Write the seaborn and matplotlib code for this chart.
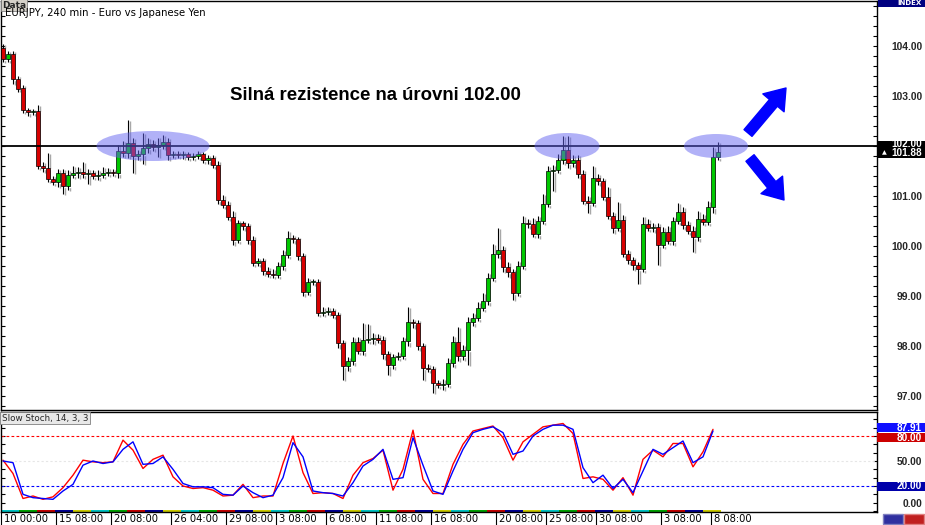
import numpy as np
import pandas as pd
import seaborn as sns
import matplotlib
matplotlib.use("Agg")
import matplotlib.pyplot as plt
import matplotlib.transforms as mtransforms
from matplotlib.patches import Ellipse, Rectangle
from matplotlib.ticker import MultipleLocator, FixedLocator

# EURJPY 4h candles (close, wick sizes)
first_open = 103.95
closes = [
    103.75, 103.85, 103.35, 103.15, 102.72, 102.68, 102.70, 101.60, 101.56, 101.35, 101.28, 101.46,
    101.20, 101.42, 101.46, 101.48, 101.44, 101.46, 101.40, 101.42, 101.46, 101.48, 101.47, 101.90,
    101.86, 102.06, 101.80, 101.84, 101.96, 102.04, 101.98, 102.02, 102.08, 101.82, 101.84, 101.82,
    101.84, 101.78, 101.80, 101.84, 101.72, 101.76, 101.62, 100.92, 100.82, 100.58, 100.12, 100.46,
    100.40, 100.12, 99.66, 99.70, 99.50, 99.44, 99.42, 99.60, 99.82, 100.16, 100.14, 99.80,
    99.08, 99.28, 99.28, 98.66, 98.68, 98.70, 98.62, 98.06, 97.60, 97.70, 98.08, 97.90,
    98.12, 98.14, 98.16, 98.12, 97.84, 97.62, 97.78, 97.80, 98.10, 98.48, 98.46, 98.00,
    97.56, 97.54, 97.26, 97.22, 97.24, 97.66, 98.08, 97.80, 97.92, 98.48, 98.56, 98.76,
    98.90, 99.36, 99.84, 99.92, 99.58, 99.48, 99.06, 99.60, 100.46, 100.44, 100.24, 100.50,
    100.84, 101.50, 101.52, 101.72, 101.92, 101.66, 101.72, 101.44, 100.90, 100.86, 101.36, 101.30,
    100.98, 100.60, 100.36, 100.52, 99.84, 99.72, 99.62, 99.55, 100.44, 100.36, 100.38, 100.02,
    100.28, 100.10, 100.50, 100.68, 100.42, 100.30, 100.18, 100.54, 100.48, 100.78, 101.78, 101.88,
]
up_wick = [
    0.10, 0.05, 0.06, 0.05, 0.06, 0.05, 0.05, 0.12, 0.08, 0.30, 0.06, 0.08,
    0.08, 0.10, 0.15, 0.10, 0.20, 0.08, 0.06, 0.10, 0.12, 0.08, 0.06, 0.12,
    0.20, 0.46, 0.10, 0.08, 0.30, 0.12, 0.08, 0.15, 0.14, 0.08, 0.06, 0.06,
    0.06, 0.05, 0.06, 0.06, 0.05, 0.06, 0.06, 0.08, 0.10, 0.08, 0.12, 0.06,
    0.05, 0.06, 0.08, 0.06, 0.06, 0.08, 0.10, 0.08, 0.10, 0.14, 0.06, 0.05,
    0.06, 0.08, 0.06, 0.06, 0.10, 0.08, 0.06, 0.06, 0.06, 0.08, 0.10, 0.10,
    0.34, 0.30, 0.10, 0.08, 0.08, 0.06, 0.06, 0.08, 0.08, 0.30, 0.06, 0.06,
    0.06, 0.08, 0.06, 0.06, 0.10, 0.10, 0.12, 0.30, 0.10, 0.10, 0.10, 0.12,
    0.15, 0.10, 0.20, 0.44, 0.08, 0.10, 0.06, 0.10, 0.15, 0.08, 0.12, 0.10,
    0.20, 0.10, 0.10, 0.12, 0.28, 0.28, 0.10, 0.10, 0.08, 0.10, 0.25, 0.08,
    0.06, 0.20, 0.08, 0.36, 0.10, 0.08, 0.06, 0.06, 0.15, 0.10, 0.08, 0.08,
    0.10, 0.12, 0.08, 0.18, 0.10, 0.08, 0.10, 0.15, 0.10, 0.12, 0.20, 0.20,
]
dn_wick = [
    0.06, 0.06, 0.10, 0.06, 0.06, 0.08, 0.06, 0.06, 0.08, 0.06, 0.06, 0.10,
    0.15, 0.08, 0.06, 0.10, 0.08, 0.20, 0.06, 0.08, 0.06, 0.06, 0.06, 0.10,
    0.08, 0.10, 0.34, 0.08, 0.20, 0.10, 0.08, 0.20, 0.08, 0.10, 0.06, 0.06,
    0.08, 0.06, 0.06, 0.06, 0.06, 0.08, 0.06, 0.08, 0.06, 0.06, 0.10, 0.06,
    0.08, 0.08, 0.06, 0.06, 0.08, 0.06, 0.06, 0.06, 0.08, 0.06, 0.08, 0.08,
    0.08, 0.06, 0.06, 0.06, 0.06, 0.06, 0.06, 0.10, 0.28, 0.10, 0.08, 0.06,
    0.08, 0.06, 0.10, 0.06, 0.10, 0.20, 0.08, 0.06, 0.06, 0.10, 0.10, 0.08,
    0.25, 0.06, 0.20, 0.06, 0.10, 0.06, 0.08, 0.10, 0.08, 0.30, 0.08, 0.06,
    0.06, 0.08, 0.06, 0.08, 0.10, 0.10, 0.14, 0.06, 0.06, 0.08, 0.06, 0.08,
    0.06, 0.06, 0.40, 0.06, 0.08, 0.10, 0.08, 0.08, 0.06, 0.20, 0.06, 0.08,
    0.06, 0.06, 0.10, 0.06, 0.06, 0.08, 0.10, 0.30, 0.06, 0.06, 0.08, 0.40,
    0.06, 0.06, 0.08, 0.06, 0.08, 0.06, 0.30, 0.08, 0.06, 0.06, 0.12, 0.06,
]

# Slow stochastic (one value every 2 candles)
stoch_k = [
    51, 35, 5, 8, 4, 7, 18, 33, 51, 49, 48, 49,
    75, 63, 41, 52, 57, 31, 20, 17, 18, 15, 8, 9,
    22, 6, 8, 8, 47, 80, 36, 11, 12, 11, 5, 33,
    48, 53, 63, 15, 40, 87, 28, 11, 11, 46, 70, 86,
    89, 92, 78, 51, 73, 82, 91, 93, 95, 83, 29, 31,
    28, 15, 30, 9, 52, 63, 55, 71, 71, 43, 61, 88,
]
stoch_d = [
    50, 48, 10, 6, 5, 4, 14, 22, 45, 50, 47, 49,
    64, 73, 46, 47, 55, 40, 23, 19, 19, 18, 10, 9,
    20, 12, 6, 9, 30, 72, 55, 14, 12, 11, 8, 24,
    44, 52, 64, 28, 30, 78, 45, 14, 10, 38, 64, 84,
    88, 91, 84, 58, 62, 80, 88, 93, 93, 88, 42, 24,
    33, 17, 28, 12, 38, 64, 58, 66, 74, 48, 55, 86,
]

time_labels = ["10 00:00", "15 08:00", "20 08:00", "26 04:00", "29 08:00", "3 08:00", "6 08:00",
               "11 08:00", "16 08:00", "20 08:00", "25 08:00", "30 08:00", "3 08:00", "8 08:00"]
time_idx = [0, 11, 22, 34, 45, 55, 65, 75, 86, 99, 109, 119, 132, 142]
price_ticks = [97, 98, 99, 100, 101, 103, 104]
resistance = 102.00
last_price = 101.88
last_k = 87.91

GREEN = "#00c800"
RED = "#d80000"

sns.set_style("white")
plt.rcParams["font.family"] = ["DejaVu Sans"]

opens = [first_open] + closes[:-1]
df = pd.DataFrame({"open": opens, "close": closes, "up": up_wick, "dn": dn_wick})
df["i"] = np.arange(len(df))
df["top"] = df[["open", "close"]].max(axis=1)
df["bot"] = df[["open", "close"]].min(axis=1)
df["high"] = df["top"] + df["up"]
df["low"] = df["bot"] - df["dn"]
df["body"] = (df["top"] - df["bot"]).clip(lower=0.02)
colors = np.where(df["close"] >= df["open"], GREEN, RED)

W, H = 925, 525
fig = plt.figure(figsize=(W / 100, H / 100), dpi=100)


def fx(px):
    return px / W


def fy(py):
    return 1 - py / H


ax = fig.add_axes([fx(1), fy(410), fx(877) - fx(1), fy(1) - fy(410)])
ax2 = fig.add_axes([fx(1), fy(512), fx(877) - fx(1), fy(412) - fy(512)])

xlim = (-0.4, 174.8)

# candles with grey shadow
ax.vlines(df["i"] + 0.3, df["low"] - 0.02, df["high"] - 0.02, color="#a8a8a8", lw=1.0, zorder=1)
ax.bar(df["i"] + 0.3, df["body"], bottom=df["bot"] - 0.02, width=0.7, color="#a8a8a8", zorder=1)
ax.vlines(df["i"], df["low"], df["high"], color="black", lw=0.8, zorder=2)
ax.bar(df["i"], df["body"], bottom=df["bot"], width=0.7, color=colors,
       edgecolor="black", linewidth=0.5, zorder=3)

ax.axhline(resistance, color="black", lw=1.3, zorder=4)

for cx, w, h in [(30, 22.6, 0.60), (112.8, 13.0, 0.52), (142.6, 12.8, 0.48)]:
    ax.add_patch(Ellipse((cx, resistance), w, h, facecolor="#6464f0", alpha=0.5,
                         edgecolor="none", zorder=5))

arrow = dict(arrowstyle="simple,head_length=1.4,head_width=2.0,tail_width=0.75",
             mutation_scale=10, color="#0000ff", shrinkA=0, shrinkB=0)
ax.annotate("", xy=(156.6, 103.16), xytext=(149, 102.26), arrowprops=arrow, zorder=6)
ax.annotate("", xy=(156.2, 100.92), xytext=(149.4, 101.76), arrowprops=arrow, zorder=6)

ax.text(74.4, 103.0, "Silná rezistence na úrovni 102.00", ha="center", va="center",
        fontsize=13.4, fontweight="bold", family="Liberation Sans", color="black")

ax.set_xlim(*xlim)
ax.set_ylim(96.72, 104.9)
ax.set_xticks([])
ax.yaxis.set_major_locator(FixedLocator(price_ticks))
ax.yaxis.set_minor_locator(MultipleLocator(0.2))
ax.yaxis.set_major_formatter(lambda v, p: f"{v:.2f}")
ax.tick_params(axis="y", which="both", left=True, right=True, labelleft=False, labelright=True,
               direction="in", length=3, width=0.8, color="black", pad=32.4)
for lab in ax.get_yticklabels():
    lab.set_ha("right")
    lab.set_fontsize(7.4)
    lab.set_fontweight("bold")
    lab.set_family("Liberation Sans")

# stochastic
st = pd.DataFrame({"i": np.arange(len(stoch_k)) * 2, "K": stoch_k, "D": stoch_d})
ax2.axhline(80, color="#ff0000", lw=0.8, ls=(0, (2.5, 2)))
ax2.axhline(20, color="#0000ff", lw=0.8, ls=(0, (2.5, 2)))
ax2.axhline(50, color="#e6e6e6", lw=0.8, ls=(0, (2, 2)))
sns.lineplot(data=st, x="i", y="K", color="#ff0000", linewidth=1.0, ax=ax2)
sns.lineplot(data=st, x="i", y="D", color="#0000ff", linewidth=1.0, ax=ax2)

seg_colors = ["#00c0c0", "#00a000", "#c00000", "#000090", "#c8c800"]
for k, x0 in enumerate(np.arange(-0.4, 143.6, 3.6)):
    ax2.add_patch(Rectangle((x0, -11.2), min(3.6, 143.6 - x0), 3.0,
                            facecolor=seg_colors[k % 5], edgecolor="none", zorder=1))

ax2.set_xlim(*xlim)
ax2.set_ylim(-11.2, 108.8)
ax2.set_xlabel("")
ax2.set_ylabel("")
ax2.set_xticks([])
ax2.yaxis.set_major_locator(FixedLocator([0, 50]))
ax2.yaxis.set_minor_locator(MultipleLocator(10))
ax2.yaxis.set_major_formatter(lambda v, p: f"{v:.2f}")
ax2.tick_params(axis="y", which="both", left=True, right=True, labelleft=False, labelright=True,
                direction="in", length=3, width=0.8, color="black", pad=32.4)
for lab in ax2.get_yticklabels():
    lab.set_ha("right")
    lab.set_fontsize(7.4)
    lab.set_fontweight("bold")
    lab.set_family("Liberation Sans")

for a in (ax, ax2):
    for s in a.spines.values():
        s.set_color("black")
        s.set_linewidth(1.0)

# time axis labels
tr = mtransforms.blended_transform_factory(ax2.transData, ax2.transAxes)
for x, lab in zip(time_idx, time_labels):
    ax2.plot([x - 0.4, x - 0.4], [0, -0.13], transform=tr, color="black", lw=0.8, clip_on=False)
    ax2.text(x + 0.2, -0.065, lab, transform=tr, ha="left", va="center", fontsize=7.2,
             color="black")

# right side tags
yt = ax.get_yaxis_transform()
ax.add_patch(Rectangle((1.0, 101.76), 0.06, 0.34, transform=yt, facecolor="black",
                       edgecolor="none", clip_on=False, zorder=7))
ax.text(1.0514, 102.04, "102.00", transform=yt, ha="right", va="center", fontsize=7.2,
        fontweight="bold", family="Liberation Sans", color="white", clip_on=False, zorder=8)
ax.text(1.0514, 101.86, f"{last_price:.2f}", transform=yt, ha="right", va="center", fontsize=7.2,
        fontweight="bold", family="Liberation Sans", color="white", clip_on=False, zorder=8)
ax.text(1.006, 101.86, "▲", transform=yt, ha="left", va="center", fontsize=4.5,
        color="white", clip_on=False, zorder=8)

yt2 = ax2.get_yaxis_transform()
for val, txt, col in [(last_k + 2.2, f"{last_k:.2f}", "#1010ff"), (78.0, "80.00", "#cc0000"),
                      (20.0, "20.00", "#0000aa")]:
    ax2.add_patch(Rectangle((1.0, val - 5.4), 0.06, 10.8, transform=yt2, facecolor=col,
                            edgecolor="none", clip_on=False, zorder=7))
    ax2.text(1.0514, val, txt, transform=yt2, ha="right", va="center", fontsize=7.2,
             fontweight="bold", family="Liberation Sans", color="white", clip_on=False, zorder=8)

# header labels
fig.text(fx(2), fy(5), "Data", ha="left", va="center", fontsize=6.5, fontweight="bold",
         bbox=dict(boxstyle="square,pad=0.15", facecolor="#d4d0c8", edgecolor="#808080", lw=0.6))
fig.text(fx(5), fy(13.5), "EURJPY, 240 min - Euro vs Japanese Yen", ha="left", va="center",
         fontsize=7.3, color="black")
fig.patches.append(Rectangle((fx(878), fy(7)), fx(925) - fx(878), fy(0) - fy(7),
                             transform=fig.transFigure, facecolor="#000080", edgecolor="none"))
fig.text(fx(922), fy(3), "INDEX", ha="right", va="center", fontsize=5, fontweight="bold",
         color="white")
fig.text(fx(2), fy(418), "Slow Stoch, 14, 3, 3", ha="left", va="center", fontsize=6.3,
         bbox=dict(boxstyle="square,pad=0.2", facecolor="#e8e8e8", edgecolor="#808080", lw=0.6))

# corner buttons
fig.patches.append(Rectangle((fx(883), fy(524)), fx(20), fy(0) - fy(10),
                             transform=fig.transFigure, facecolor="#3030a0", edgecolor="#8080c0"))
fig.patches.append(Rectangle((fx(904), fy(524)), fx(20), fy(0) - fy(10),
                             transform=fig.transFigure, facecolor="#c02020", edgecolor="#e08080"))

fig.savefig("out.png", dpi=100)
